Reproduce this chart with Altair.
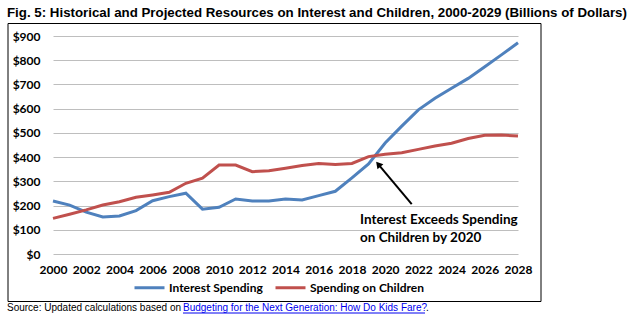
import altair as alt
import pandas as pd

years = list(range(2000, 2029))
interest = [219, 202, 173, 153, 157, 179, 220, 237, 251, 185, 193, 227, 219, 219, 227,
            223, 241, 259, 314, 372, 458, 528, 595, 643, 684, 725, 773, 822, 872]
children = [147, 164, 182, 202, 216, 234, 244, 255, 292, 313, 367, 367, 340, 344, 354,
            365, 374, 370, 374, 402, 412, 418, 432, 446, 457, 477, 490, 491, 487]
series_names = ["Interest Spending", "Spending on Children"]
series_colors = ["#4F81BD", "#C0504D"]

x_ticks = list(range(2000, 2029, 2))
y_ticks = list(range(0, 1000, 100))

arrow_tail = {"year": 2021.6, "value": 206}
arrow_head = {"year": 2019.63, "value": 367}
note_lines = ["Interest Exceeds Spending", "on Children by 2020"]

title_text = "Fig. 5: Historical and Projected Resources on Interest and Children, 2000-2029 (Billions of Dollars)"
source_text = "Source: Updated calculations based on "
link_text = "Budgeting for the Next Generation: How Do Kids Fare?"

FONT = "Lato"

rows = []
for y, a, b in zip(years, interest, children):
    rows.append({"year": y, "value": a, "series": series_names[0]})
    rows.append({"year": y, "value": b, "series": series_names[1]})
df = pd.DataFrame(rows)

W, H = 465, 218

xscale = alt.Scale(domain=[2000, 2028], nice=False, zero=False)
yscale = alt.Scale(domain=[0, 900], nice=False)
xaxis = alt.Axis(values=x_ticks, format="d", title=None, grid=False, domain=False,
                 ticks=False, labelPadding=10, labelFont=FONT, labelFontWeight="bold",
                 labelFontSize=12, labelColor="#000000", labelFlush=False,
                 labelOverlap=False, labelBound=False)
yaxis = alt.Axis(values=y_ticks, labelExpr="'$' + datum.value", title=None,
                 grid=True, gridColor="#BEBEBE", gridWidth=1, domain=False,
                 ticks=False, labelPadding=13, labelFont=FONT,
                 labelFontWeight="bold", labelFontSize=12, labelColor="#000000",
                 labelOverlap=False, labelBound=False)

lines = alt.Chart(df).mark_line(strokeWidth=3).encode(
    x=alt.X("year:Q", scale=xscale, axis=xaxis),
    y=alt.Y("value:Q", scale=yscale, axis=yaxis),
    color=alt.Color("series:N",
                    scale=alt.Scale(domain=series_names, range=series_colors),
                    legend=alt.Legend(title=None, orient="none", legendX=80, legendY=235,
                                      direction="horizontal", symbolType="stroke",
                                      symbolStrokeWidth=3, symbolSize=900, labelFont=FONT,
                                      labelFontWeight="bold", labelFontSize=12,
                                      labelColor="#000000", labelOffset=3,
                                      columnPadding=6)),
)

arrow_df = pd.DataFrame([{"year": arrow_tail["year"], "value": arrow_tail["value"],
                          "year2": arrow_head["year"], "value2": arrow_head["value"]}])
arrow_line = alt.Chart(arrow_df).mark_rule(strokeWidth=2, color="#000000").encode(
    x=alt.X("year:Q", scale=xscale, axis=xaxis), y=alt.Y("value:Q", scale=yscale, axis=yaxis),
    x2="year2:Q", y2="value2:Q")
head_df = pd.DataFrame([{"year": arrow_head["year"], "value": arrow_head["value"]}])
arrow_headm = alt.Chart(head_df).mark_point(shape="triangle", filled=True, size=60,
                                            color="#000000", opacity=1, angle=320).encode(
    x=alt.X("year:Q", scale=xscale, axis=xaxis), y=alt.Y("value:Q", scale=yscale, axis=yaxis))

note_df = pd.DataFrame({"t": ["\n".join(note_lines)]})
note = alt.Chart(note_df).mark_text(
    text=note_lines, align="left", baseline="middle", font=FONT, fontWeight="bold",
    fontSize=13.5, lineHeight=18, color="#000000"
).encode(x=alt.value(307), y=alt.value(184))

frame = alt.Chart(note_df).mark_rect(fill=None, stroke="#000000", strokeWidth=1).encode(
    x=alt.value(-45), x2=alt.value(488), y=alt.value(-12.5), y2=alt.value(265.5))

title = alt.Chart(note_df).mark_text(
    text=title_text, align="left", baseline="middle", font="Liberation Sans",
    fontWeight="bold", fontSize=13.3, color="#000000"
).encode(x=alt.value(-46), y=alt.value(-23))

source = alt.Chart(note_df).mark_text(
    text=source_text, align="left", baseline="middle", font="Liberation Sans",
    fontSize=10, color="#000000"
).encode(x=alt.value(-46), y=alt.value(271.5))
link = alt.Chart(note_df).mark_text(
    text=link_text, align="left", baseline="middle", font="Liberation Sans",
    fontSize=10, color="#0000EE"
).encode(x=alt.value(130), y=alt.value(271.5))
underline = alt.Chart(note_df).mark_rule(color="#0000EE", strokeWidth=1).encode(
    x=alt.value(130), x2=alt.value(372), y=alt.value(277), y2=alt.value(277))
period = alt.Chart(note_df).mark_text(
    text=".", align="left", baseline="middle", font="Liberation Sans",
    fontSize=10, color="#000000"
).encode(x=alt.value(373), y=alt.value(271.5))

chart = alt.layer(frame, lines, arrow_line, arrow_headm, note, title, source, link,
                  underline, period).properties(
    width=W, height=H,
    autosize=alt.AutoSizeParams(type="none"),
    padding={"left": 53, "top": 36, "right": 118, "bottom": 67},
    background="#FFFFFF",
).configure_view(stroke=None)

chart.save("out.html", embed_options={"renderer": "svg", "actions": False})
